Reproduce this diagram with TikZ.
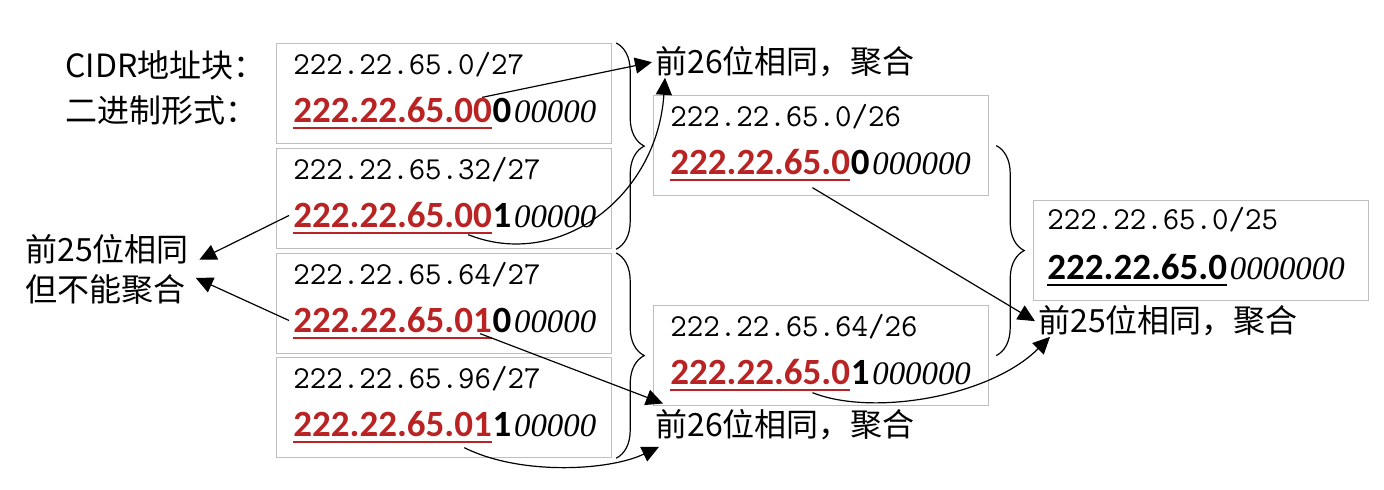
\documentclass[tikz,border=0pt]{standalone}
\usepackage{fontspec}
\usetikzlibrary{arrows.meta, positioning, decorations.pathreplacing}
\newfontfamily\cjk{Noto Sans CJK SC}
\newfontfamily\calfont{Carlito}
\newfontfamily\serfont{Liberation Serif}
\definecolor{prered}{RGB}{185,35,35}
\definecolor{boxgray}{RGB}{190,190,190}
\tikzstyle{addrbox} = [rectangle, draw=boxgray, line width=0.6pt, minimum width=167.5pt, minimum height=50pt, anchor=north west, inner sep=0pt]
\tikzstyle{addr} = [anchor=base west, inner sep=0pt, font=\ttfamily\fontsize{16pt}{19pt}\selectfont]
\tikzstyle{samebits} = [anchor=base west, inner sep=0pt, text=prered, font=\calfont\bfseries\fontsize{18.5pt}{22pt}\selectfont]
\tikzstyle{nextbit} = [inner sep=0pt, font=\calfont\bfseries\fontsize{18.5pt}{22pt}\selectfont]
\tikzstyle{hostbits} = [inner sep=0pt, font=\serfont\itshape\fontsize{16.4pt}{20pt}\selectfont]
\tikzstyle{note} = [anchor=base west, inner sep=0pt, font=\cjk\fontsize{16pt}{19pt}\selectfont]
\tikzstyle{uline} = [line width=1.3pt, draw=prered]
\tikzstyle{arrow} = [line width=0.6pt, -{Triangle[length=8.5pt,width=8pt]}]
\tikzstyle{curly} = [line width=0.6pt, decorate, decoration={brace, amplitude=14pt}]

\begin{document}
\begin{tikzpicture}[x=0.5pt, y=-0.5pt]
    \useasboundingbox (0,0) rectangle (1384,490);
    % headings
    \node (hcidr) [note] at (65,78) {CIDR地址块：};
    \node (hbin) [note] at (65,123) {二进制形式：};

    % /27 blocks
    \node (b1) [addrbox] at (276,43) {};
    \node (b2) [addrbox] at (276,148) {};
    \node (b3) [addrbox] at (276,253) {};
    \node (b4) [addrbox] at (276,357) {};
    % /26 blocks
    \node (b5) [addrbox] at (653,95) {};
    \node (b6) [addrbox] at (653,305) {};
    % /25 block
    \node (b7) [addrbox] at (1033,200) {};

    \node (a1) [addr] at ([shift={(8.5pt,-16pt)}]b1.north west) {222.22.65.0/27};
    \node (p1) [samebits] at ([shift={(8.5pt,-40pt)}]b1.north west) {222.22.65.00};
    \node (k1) [nextbit, base right=0pt of p1] {0};
    \node (r1) [hostbits, base right=1pt of k1] {00000};

    \node (a2) [addr] at ([shift={(8.5pt,-16pt)}]b2.north west) {222.22.65.32/27};
    \node (p2) [samebits] at ([shift={(8.5pt,-40pt)}]b2.north west) {222.22.65.00};
    \node (k2) [nextbit, base right=0pt of p2] {1};
    \node (r2) [hostbits, base right=1pt of k2] {00000};

    \node (a3) [addr] at ([shift={(8.5pt,-16pt)}]b3.north west) {222.22.65.64/27};
    \node (p3) [samebits] at ([shift={(8.5pt,-40pt)}]b3.north west) {222.22.65.01};
    \node (k3) [nextbit, base right=0pt of p3] {0};
    \node (r3) [hostbits, base right=1pt of k3] {00000};

    \node (a4) [addr] at ([shift={(8.5pt,-16pt)}]b4.north west) {222.22.65.96/27};
    \node (p4) [samebits] at ([shift={(8.5pt,-40pt)}]b4.north west) {222.22.65.01};
    \node (k4) [nextbit, base right=0pt of p4] {1};
    \node (r4) [hostbits, base right=1pt of k4] {00000};

    \node (a5) [addr] at ([shift={(8.5pt,-16pt)}]b5.north west) {222.22.65.0/26};
    \node (p5) [samebits] at ([shift={(8.5pt,-40pt)}]b5.north west) {222.22.65.0};
    \node (k5) [nextbit, base right=0pt of p5] {0};
    \node (r5) [hostbits, base right=1pt of k5] {000000};

    \node (a6) [addr] at ([shift={(8.5pt,-16pt)}]b6.north west) {222.22.65.64/26};
    \node (p6) [samebits] at ([shift={(8.5pt,-40pt)}]b6.north west) {222.22.65.0};
    \node (k6) [nextbit, base right=0pt of p6] {1};
    \node (r6) [hostbits, base right=1pt of k6] {000000};

    \node (a7) [addr] at ([shift={(7pt,-15pt)}]b7.north west) {222.22.65.0/25};
    \node (p7) [samebits, text=black] at ([shift={(7pt,-40pt)}]b7.north west) {222.22.65.0};
    \node (r7) [hostbits, base right=1pt of p7] {0000000};

    % underlines
    \draw [uline] ([yshift=-2.5pt]p1.base west) -- ([yshift=-2.5pt]p1.base east);
    \draw [uline] ([yshift=-2.5pt]p2.base west) -- ([yshift=-2.5pt]p2.base east);
    \draw [uline] ([yshift=-2.5pt]p3.base west) -- ([yshift=-2.5pt]p3.base east);
    \draw [uline] ([yshift=-2.5pt]p4.base west) -- ([yshift=-2.5pt]p4.base east);
    \draw [uline] ([yshift=-2.5pt]p5.base west) -- ([yshift=-2.5pt]p5.base east);
    \draw [uline] ([yshift=-2.5pt]p6.base west) -- ([yshift=-2.5pt]p6.base east);
    \draw [uline, draw=black] ([yshift=-2.5pt]p7.base west) -- ([yshift=-2.5pt]p7.base east);

    % labels
    \node (l26a) [note] at (655,74) {前26位相同，聚合};
    \node (l26b) [note] at (655,437) {前26位相同，聚合};
    \node (l25) [note] at (1038,333) {前25位相同，聚合};
    \node (lno1) [note, inner xsep=5pt] at (15,262) {前25位相同};
    \node (lno2) [note, inner xsep=5pt] at (15,302) {但不能聚合};

    % braces
    \draw [curly] ([xshift=2pt]b1.north east) -- ([xshift=2pt]b2.south east);
    \draw [curly] ([xshift=2pt]b3.north east) -- ([xshift=2pt]b4.south east);
    \draw [curly] ([xshift=3.5pt]b5.east) -- ([xshift=3.5pt]b6.east);

    % arrows
    \draw [arrow] ([xshift=-5pt]p1.north east) -- ([xshift=-1.5pt]l26a.west);
    \draw [arrow] ([shift={(-12pt,-3pt)}]p2.south east) .. controls +(45pt,-18pt) and +(-4pt,-60pt) .. ([xshift=5pt]l26a.south west);
    \draw [arrow] ([xshift=-2pt]p2.west) -- ([yshift=-5pt]lno1.east);
    \draw [arrow] ([xshift=-2pt]p3.west) -- ([yshift=6pt]lno2.east);
    \draw [arrow] ([xshift=-6pt]p3.south east) -- ([shift={(4pt,3pt)}]l26b.north west);
    \draw [arrow] ([shift={(-14pt,-5pt)}]p4.south east) .. controls +(28pt,-14pt) and +(-25pt,-12pt) .. ([shift={(2pt,-3pt)}]l26b.south west);
    \draw [arrow] ([shift={(-19pt,-6pt)}]p5.south east) -- ([xshift=-1.5pt]l25.west);
    \draw [arrow] ([shift={(-19pt,-3.5pt)}]p6.south east) .. controls +(30pt,-12pt) and +(-30pt,-30pt) .. ([xshift=6pt]l25.south west);
\end{tikzpicture}
\end{document}
